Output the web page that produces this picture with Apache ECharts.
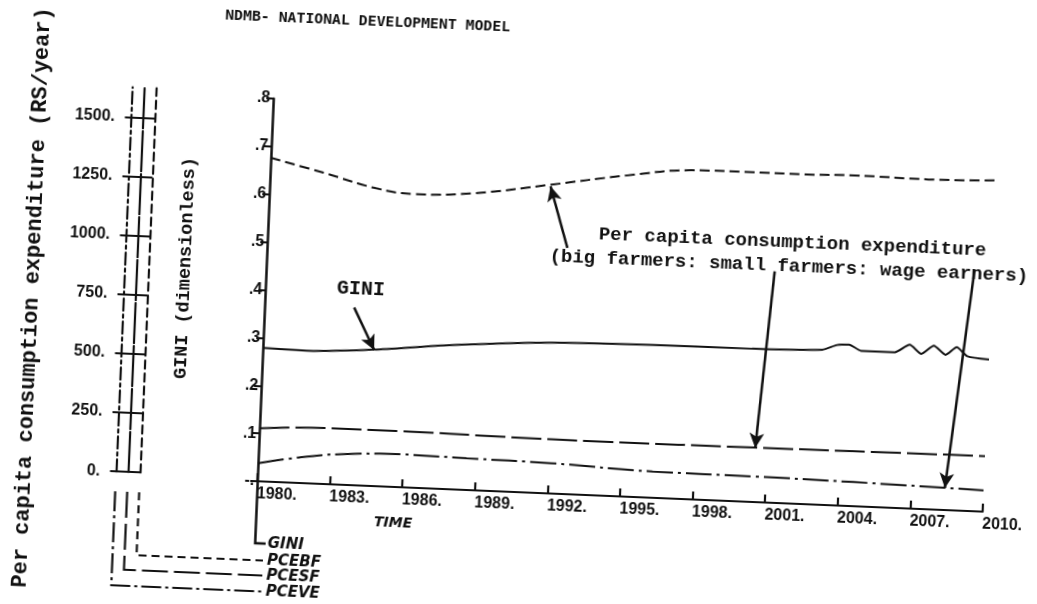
<!DOCTYPE html>
<html><head><meta charset="utf-8">
<script src="https://cdn.jsdelivr.net/npm/echarts@6/dist/echarts.min.js"></script>
<style>
html,body{margin:0;padding:0;background:#fff;overflow:hidden;width:1037px;height:604px}
#c{position:absolute;left:0;top:0;width:1037px;height:660px;transform:rotate(2.4deg);transform-origin:518px 302px}
</style></head><body><div id="c"></div>
<script>
// ---- data ----
const giniYears  = [1980, 1982.1, 1984.6, 1987.7, 1991.9, 1996.1, 2000.2, 2003.1, 2003.7, 2004.2, 2004.7, 2006.1, 2006.7, 2007.2, 2007.7, 2008.2, 2008.65, 2009.1, 2010];
const giniValues = [0.279, 0.277, 0.285, 0.301, 0.315, 0.319, 0.320, 0.324, 0.335, 0.337, 0.325, 0.325, 0.342, 0.324, 0.342, 0.324, 0.341, 0.323, 0.318];

const pcebfYears  = [1980, 1982.25, 1984.4, 1986.0, 1988.5, 1991.6, 1994.7, 1997.4, 1999.9, 2002, 2004.1, 2007.2, 2010];
const pcebfValues = [1352, 1297, 1242, 1224, 1239, 1288, 1340, 1374, 1377, 1376, 1381, 1377, 1385];

const pcesfYears  = [1980, 1982.7, 1985.8, 1990, 1994.2, 2000.4, 2004.6, 2010];
const pcesfValues = [208, 221, 221, 215, 212, 214, 216, 219];

const pceveYears  = [1980, 1981.7, 1983.4, 1985.9, 1988.6, 1992.1, 1996.3, 2000.5, 2004.6, 2010];
const pceveValues = [60, 92, 113, 123, 118, 112, 95, 92, 86, 74];

const giniTickLabels = ['-.', '.1', '.2', '.3', '.4', '.5', '.6', '.7', '.8'];
const pceTicks = [0, 250, 500, 750, 1000, 1250, 1500];

// annotation arrows: [tailYear, tailValue, tipYear, tipValue]
const giniArrow  = [1983.7, 0.371, 1984.6, 0.284];
const bfArrow    = [1992.4, 1024, 1991.6, 1281];
const sfArrow    = [2001.0, 962, 2000.5, 212];
const veArrow    = [2009.25, 1005, 2008.4, 77];

// ---- chart ----
const ink = '#111';
const pair = (xs, ys) => xs.map((x, i) => [x, ys[i]]);
const arrow = a => ({
  silent: true, animation: false,
  symbol: ['none', 'arrow'], symbolSize: [11, 15],
  lineStyle: { type: 'solid', color: ink, width: 2.5 },
  label: { show: false }, emphasis: { disabled: true },
  data: [[{ coord: [a[0], a[1]] }, { coord: [a[2], a[3]] }]]
});
const tickFont = { color: ink, fontFamily: 'Liberation Sans', fontWeight: 'bold', fontSize: 16 };

const chart = echarts.init(document.getElementById('c'), null, { renderer: 'canvas' });
chart.setOption({
  animation: false,
  backgroundColor: '#fff',
  grid: [
    { left: 265, top: 109, width: 726, height: 383 },
    { left: 265, top: 103.7, width: 726, height: 384.5 }
  ],
  xAxis: [
    { gridIndex: 0, type: 'value', min: 1980, max: 2010, interval: 3,
      axisLine: { lineStyle: { color: ink, width: 2.2 } },
      axisTick: { inside: true, length: 8, lineStyle: { color: ink, width: 2.2 } },
      axisLabel: Object.assign({ formatter: v => v + '.', align: 'left', margin: 5 }, tickFont),
      splitLine: { show: false } },
    { gridIndex: 1, type: 'value', min: 1980, max: 2010, show: false }
  ],
  yAxis: [
    { gridIndex: 0, type: 'value', min: 0, max: 0.8, interval: 0.1,
      axisLine: { show: true, lineStyle: { color: ink, width: 2.5 } },
      axisTick: { show: true, length: 7, lineStyle: { color: ink, width: 2 } },
      axisLabel: Object.assign({ formatter: v => giniTickLabels[Math.round(v * 10)], margin: 3 }, tickFont),
      splitLine: { show: false } },
    { gridIndex: 1, type: 'value', min: 0, max: 1625, interval: 250, position: 'left', offset: 141.5,
      axisLine: { show: true, lineStyle: { color: ink, width: 2.2, type: [12, 4, 3, 4] } },
      axisTick: { show: false },
      axisLabel: Object.assign({ customValues: pceTicks, formatter: v => v + '.', margin: 16 }, tickFont),
      splitLine: { show: false } },
    { gridIndex: 1, type: 'value', min: 0, max: 1625, interval: 250, position: 'left', offset: 129.5,
      axisLine: { show: true, lineStyle: { color: ink, width: 2.2, type: [40, 3] } },
      axisTick: { show: true, customValues: pceTicks, length: 18, lineStyle: { color: ink, width: 2 } },
      axisLabel: { show: false }, splitLine: { show: false } },
    { gridIndex: 1, type: 'value', min: 0, max: 1625, interval: 250, position: 'left', offset: 117.5,
      axisLine: { show: true, lineStyle: { color: ink, width: 2.2, type: [8, 5] } },
      axisTick: { show: true, customValues: pceTicks, length: 13, lineStyle: { color: ink, width: 2 } },
      axisLabel: { show: false }, splitLine: { show: false } }
  ],
  series: [
    { name: 'GINI', type: 'line', xAxisIndex: 0, yAxisIndex: 0, data: pair(giniYears, giniValues),
      showSymbol: false, smooth: 0.2, lineStyle: { color: ink, width: 2 }, markLine: arrow(giniArrow) },
    { name: 'PCEBF', type: 'line', xAxisIndex: 1, yAxisIndex: 1, data: pair(pcebfYears, pcebfValues),
      showSymbol: false, smooth: 0.4, lineStyle: { color: ink, width: 2, type: [10, 5] }, markLine: arrow(bfArrow) },
    { name: 'PCESF', type: 'line', xAxisIndex: 1, yAxisIndex: 1, data: pair(pcesfYears, pcesfValues),
      showSymbol: false, smooth: 0.4, lineStyle: { color: ink, width: 2, type: [30, 6] }, markLine: arrow(sfArrow) },
    { name: 'PCEVE', type: 'line', xAxisIndex: 1, yAxisIndex: 1, data: pair(pceveYears, pceveValues),
      showSymbol: false, smooth: 0.4, lineStyle: { color: ink, width: 2, type: [26, 5, 3, 5] }, markLine: arrow(veArrow) }
  ],
  graphic: [
    { type: 'text', x: 356, y: 28.6, style: { text: 'NDMB- NATIONAL DEVELOPMENT MODEL', fill: ink,
      fontFamily: 'DejaVu Sans Mono', fontWeight: 'bold', fontSize: 14.8, align: 'center', verticalAlign: 'middle' } },
    { type: 'text', x: 32.7, y: 317.8, rotation: Math.PI / 2, style: { text: 'Per capita consumption expenditure (RS/year)', fill: ink,
      fontFamily: 'Liberation Mono', fontWeight: 'bold', fontSize: 22, align: 'center', verticalAlign: 'middle' } },
    { type: 'text', x: 184, y: 282, rotation: Math.PI / 2, style: { text: 'GINI (dimensionless)', fill: ink,
      fontFamily: 'Liberation Mono', fontWeight: 'bold', fontSize: 18.5, align: 'center', verticalAlign: 'middle' } },
    { type: 'text', x: 789.8, y: 231.1, style: { text: 'Per capita consumption expenditure', fill: ink,
      fontFamily: 'Liberation Mono', fontWeight: 'bold', fontSize: 19, align: 'center', verticalAlign: 'middle' } },
    { type: 'text', x: 787.1, y: 255.2, style: { text: '(big farmers: small farmers: wage earners)', fill: ink,
      fontFamily: 'Liberation Mono', fontWeight: 'bold', fontSize: 19, align: 'center', verticalAlign: 'middle' } },
    { type: 'text', x: 360.4, y: 295.6, style: { text: 'GINI', fill: ink,
      fontFamily: 'Liberation Mono', fontWeight: 'bold', fontSize: 20, align: 'center', verticalAlign: 'middle' } },
    { type: 'text', x: 402.4, y: 528.5, style: { text: 'TIME', fill: ink,
      fontFamily: 'DejaVu Sans', fontStyle: 'italic', fontWeight: 'bold', fontSize: 14, align: 'center', verticalAlign: 'middle' } },
    // legend connectors
    { type: 'polyline', shape: { points: [[265.5, 492], [265.5, 554], [276, 554]] }, style: { stroke: ink, lineWidth: 2.5, fill: null } },
    { type: 'polyline', shape: { points: [[147.5, 508], [147.5, 571], [274, 571]] }, style: { stroke: ink, lineWidth: 2.2, lineDash: [8, 5], fill: null } },
    { type: 'polyline', shape: { points: [[135.5, 508], [135.5, 586], [274, 586]] }, style: { stroke: ink, lineWidth: 2.2, lineDash: [26, 6], fill: null } },
    { type: 'polyline', shape: { points: [[123.5, 508], [123.5, 602], [274, 602]] }, style: { stroke: ink, lineWidth: 2.2, lineDash: [20, 4, 3, 4], fill: null } },
    { type: 'text', x: 278, y: 554, style: { text: 'GINI', fill: ink, fontFamily: 'DejaVu Sans', fontStyle: 'italic', fontWeight: 'bold', fontSize: 15, align: 'left', verticalAlign: 'middle' } },
    { type: 'text', x: 278, y: 571, style: { text: 'PCEBF', fill: ink, fontFamily: 'DejaVu Sans', fontStyle: 'italic', fontWeight: 'bold', fontSize: 15, align: 'left', verticalAlign: 'middle' } },
    { type: 'text', x: 278, y: 586, style: { text: 'PCESF', fill: ink, fontFamily: 'DejaVu Sans', fontStyle: 'italic', fontWeight: 'bold', fontSize: 15, align: 'left', verticalAlign: 'middle' } },
    { type: 'text', x: 278, y: 602, style: { text: 'PCEVE', fill: ink, fontFamily: 'DejaVu Sans', fontStyle: 'italic', fontWeight: 'bold', fontSize: 15, align: 'left', verticalAlign: 'middle' } }
  ]
});
</script></body></html>
